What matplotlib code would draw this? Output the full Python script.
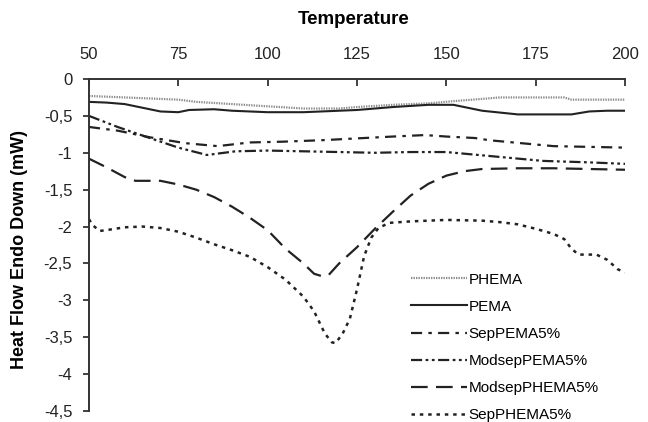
import matplotlib.pyplot as plt

plt.rcParams['font.family'] = ['Liberation Sans', 'DejaVu Sans']
plt.rcParams['lines.scale_dashes'] = False

# Données (température en °C, flux en mW)
t_phema = [50, 60, 75, 80, 90, 100, 110, 120, 125, 135, 145, 152, 160, 165, 183, 185, 200]
phema = [-0.23, -0.25, -0.28, -0.31, -0.34, -0.37, -0.40, -0.40, -0.38, -0.35, -0.33, -0.30, -0.27, -0.25, -0.25, -0.28, -0.28]

t_pema = [50, 55, 60, 65, 70, 75, 78, 85, 90, 100, 110, 120, 125, 135, 145, 152, 155, 160, 170, 185, 190, 195, 200]
pema = [-0.31, -0.32, -0.34, -0.39, -0.44, -0.45, -0.42, -0.41, -0.43, -0.45, -0.45, -0.43, -0.42, -0.38, -0.35, -0.35, -0.38, -0.43, -0.48, -0.48, -0.44, -0.43, -0.43]

t_sep_pema = [50, 58, 67, 77, 86, 95, 104, 115, 127, 135, 144, 150, 158, 162, 171, 180, 190, 200]
sep_pema = [-0.65, -0.70, -0.79, -0.87, -0.91, -0.86, -0.85, -0.83, -0.80, -0.78, -0.76, -0.78, -0.80, -0.83, -0.87, -0.91, -0.92, -0.93]

t_modsep_pema = [50, 58, 67, 75, 83, 91, 100, 110, 120, 130, 140, 150, 159, 168, 177, 190, 200]
modsep_pema = [-0.50, -0.65, -0.80, -0.93, -1.03, -0.98, -0.97, -0.98, -0.99, -1.00, -0.99, -0.99, -1.03, -1.07, -1.11, -1.13, -1.15]

t_modsep_phema = [50, 55, 60, 63, 70, 75, 80, 85, 90, 95, 100, 105, 110, 113, 115, 117, 120, 125, 130, 135, 140, 145, 150, 155, 160, 170, 180, 190, 200]
modsep_phema = [-1.08, -1.20, -1.33, -1.38, -1.38, -1.43, -1.50, -1.60, -1.73, -1.88, -2.05, -2.30, -2.50, -2.64, -2.67, -2.66, -2.50, -2.28, -2.03, -1.80, -1.58, -1.42, -1.31, -1.25, -1.22, -1.21, -1.21, -1.22, -1.23]

t_sep_phema = [50, 51, 53, 56, 60, 65, 70, 75, 80, 85, 90, 95, 100, 105, 110, 113, 116, 118, 119, 121, 123, 125, 127, 129, 131, 134, 140, 150, 160, 165, 170, 175, 180, 183, 185, 187, 192, 195, 198, 200]
sep_phema = [-1.90, -1.98, -2.06, -2.04, -2.01, -2.00, -2.02, -2.07, -2.15, -2.24, -2.32, -2.41, -2.55, -2.72, -2.95, -3.15, -3.45, -3.57, -3.58, -3.45, -3.25, -2.85, -2.40, -2.15, -2.02, -1.95, -1.93, -1.91, -1.92, -1.94, -1.97, -2.03, -2.10, -2.17, -2.30, -2.38, -2.38, -2.45, -2.58, -2.62]

x_ticks = [50, 75, 100, 125, 150, 175, 200]
y_ticks = [0, -0.5, -1, -1.5, -2, -2.5, -3, -3.5, -4, -4.5]
y_labels = ['0', '-0,5', '-1', '-1,5', '-2', '-2,5', '-3', '-3,5', '-4', '-4,5']

fig = plt.figure(figsize=(6.48, 4.22), dpi=100)
ax = fig.add_axes([89 / 648, 1 - 411 / 422, 536 / 648, 332 / 422])

dark = '#222222'
ax.plot(t_phema, phema, color='#8c8c8c', lw=1.6, dashes=(1, 0.8), label='PHEMA')
ax.plot(t_pema, pema, color=dark, lw=1.5, label='PEMA')
ax.plot(t_sep_pema, sep_pema, color=dark, lw=1.6, dashes=(8, 4.5, 2.5, 4.5), label='SepPEMA5%')
ax.plot(t_modsep_pema, modsep_pema, color=dark, lw=1.6, dashes=(8, 2.5, 2, 2.5, 2, 2.5), label='ModsepPEMA5%')
ax.plot(t_modsep_phema, modsep_phema, color=dark, lw=1.6, dashes=(12, 6), label='ModsepPHEMA5%')
ax.plot(t_sep_phema, sep_phema, color=dark, lw=1.8, dashes=(2.5, 3.5), label='SepPHEMA5%')

ax.set_xlim(50, 200)
ax.set_ylim(-4.5, 0)

# axe X en haut, ticks vers l'intérieur
ax.xaxis.tick_top()
ax.set_xticks(x_ticks)
ax.tick_params(axis='x', direction='in', length=5, width=1.2, pad=12, labelsize=12, colors='#222222')
ax.set_yticks(y_ticks)
ax.set_yticklabels(y_labels)
ax.tick_params(axis='y', direction='out', length=4, width=1.2, pad=8, labelsize=12, colors='#222222')

for s in ['right', 'bottom']:
    ax.spines[s].set_visible(False)
for s in ['top', 'left']:
    ax.spines[s].set_linewidth(1.4)
    ax.spines[s].set_color('#333333')

ax.set_ylabel('Heat Flow Endo Down (mW)', fontsize=13, fontweight='bold', va='center')
ax.yaxis.set_label_coords(-0.129, 0.485)
fig.text(353.5 / 648, 1 - 20 / 422, 'Temperature', fontsize=13.5, fontweight='bold',
         ha='center', va='center')

ax.legend(loc='upper left', bbox_to_anchor=(403 / 648, 1 - 265 / 422),
          bbox_transform=fig.transFigure, frameon=False, fontsize=11,
          handlelength=3.7, handletextpad=0.1, labelspacing=0.86, borderpad=0)

plt.savefig('out.png', dpi=100)
plt.close()
